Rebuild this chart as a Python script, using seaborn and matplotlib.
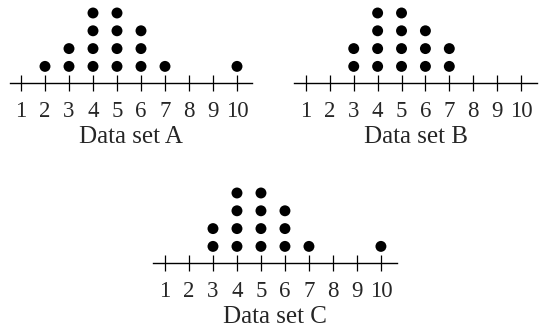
import numpy as np
import pandas as pd
import matplotlib
matplotlib.use('Agg')
import matplotlib.pyplot as plt
import seaborn as sns

# values shown in each dot plot (one entry per dot)
set_a = [2, 3, 3, 4, 4, 4, 4, 5, 5, 5, 5, 6, 6, 6, 7, 10]
set_b = [3, 3, 4, 4, 4, 4, 5, 5, 5, 5, 6, 6, 6, 7, 7]
set_c = [3, 3, 4, 4, 4, 4, 5, 5, 5, 5, 6, 6, 6, 7, 10]
names = ['Data set A', 'Data set B', 'Data set C']
ticks = list(range(1, 11))

sns.set_theme(style='white')
plt.rcParams['font.family'] = ['Liberation Serif', 'DejaVu Serif']

W, H = 540, 331
fig = plt.figure(figsize=(W / 100, H / 100), dpi=100)

unit = 17.8  # pixels per dot level
# (left px, right px, axis line y px, xlim)
layout = [
    (10, 252, 83.3, (0.542, 10.625)),
    (294, 537, 83.3, (0.5, 10.67)),
    (153, 397, 263.3, (0.5, 10.67)),
]

for data, name, (x0, x1, yline, xlim) in zip([set_a, set_b, set_c], names, layout):
    top = yline - 4.63 * unit
    ax = fig.add_axes([x0 / W, (H - yline) / H, (x1 - x0) / W, (yline - top) / H])
    df = pd.DataFrame({'value': data})
    df['level'] = df.groupby('value').cumcount() + 1
    sns.scatterplot(data=df, x='value', y='level', ax=ax, color='black',
                    s=62, edgecolor='none', clip_on=False, legend=False)
    ax.set_xlim(*xlim)
    ax.set_ylim(0.05, 4.63 + 0.05)
    ax.set_xticks(ticks)
    ax.set_xticklabels([str(t) for t in ticks])
    ax.set_yticks([])
    ax.set_ylabel('')
    ax.set_xlabel(name, fontsize=18, labelpad=3)
    for s in ['top', 'left', 'right']:
        ax.spines[s].set_visible(False)
    ax.spines['bottom'].set_color('black')
    ax.spines['bottom'].set_linewidth(1.0)
    ax.tick_params(axis='x', direction='inout', length=12, width=0.9,
                   color='black', labelsize=16.5, pad=6.5, bottom=True)
    ax.patch.set_alpha(0)

fig.savefig('out.png', dpi=100)
